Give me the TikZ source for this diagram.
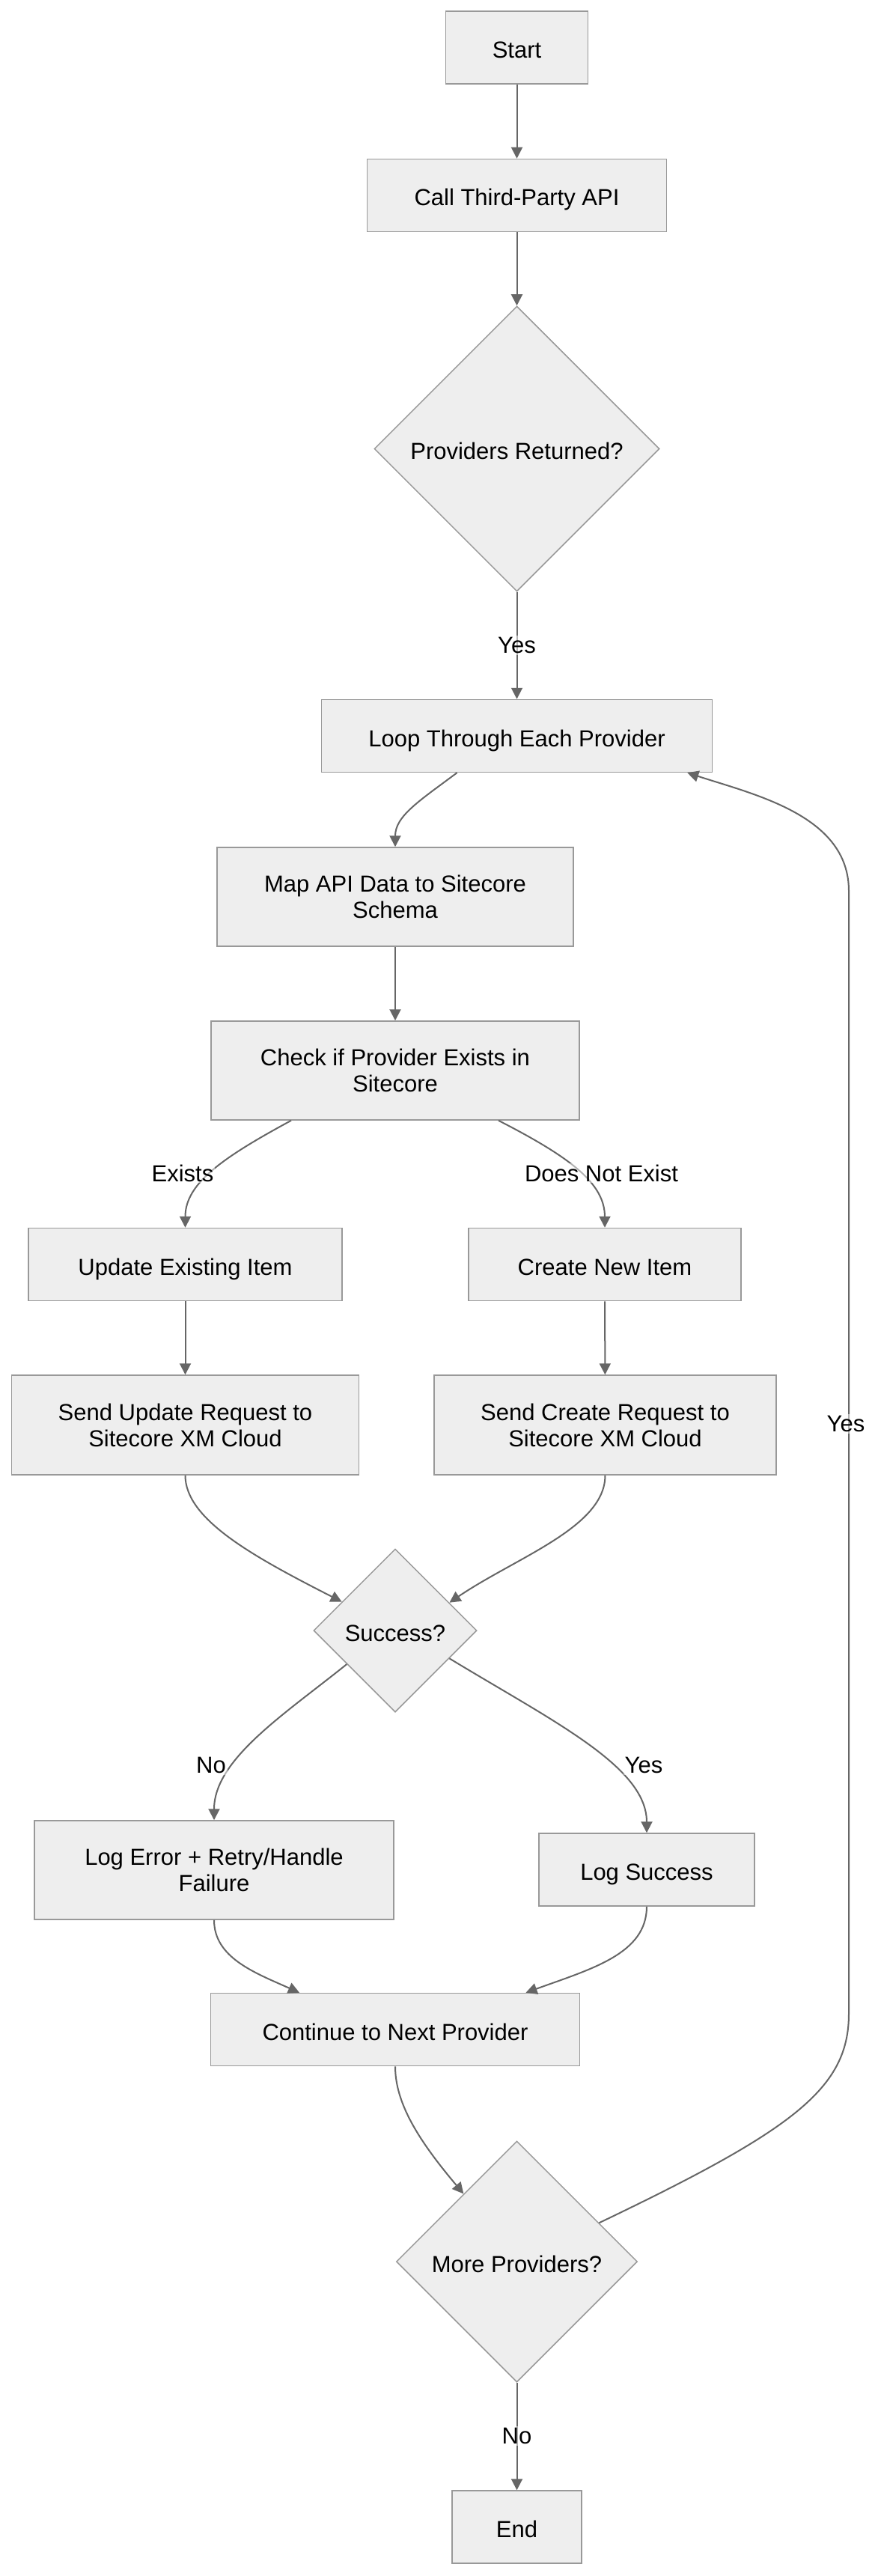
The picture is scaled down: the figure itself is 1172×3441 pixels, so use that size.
\documentclass[tikz,border=0pt]{standalone}
\usepackage{fontspec}
\setmainfont{Liberation Sans}
\usetikzlibrary{shapes.geometric,arrows.meta,calc}
\definecolor{nodefill}{HTML}{EEEEEE}
\definecolor{nodeline}{HTML}{999999}
\definecolor{edgecol}{HTML}{666666}
\begin{document}
\begin{tikzpicture}[x=1pt,y=-1pt,
  box/.style={draw=nodeline, fill=nodefill, line width=1.5pt, rectangle, inner sep=0pt, align=center, font=\fontsize{31}{35}\selectfont},
  one/.style={text height=28pt, text depth=0pt},
  dec/.style={draw=nodeline, fill=nodefill, line width=1.5pt, diamond, aspect=1, inner sep=0pt, text height=28pt, text depth=0pt, font=\fontsize{31}{35}\selectfont},
  edge/.style={draw=edgecol, line width=2pt, -{Triangle[length=15pt,width=15pt]}},
  lbl/.style={fill=white, fill opacity=0.5, text opacity=1, inner sep=2pt, font=\fontsize{31}{35}\selectfont}]
\fill[white] (0,0) rectangle (1172,3441);
\useasboundingbox (0,0) rectangle (1172,3441);

\node[box, one, minimum width=190pt, minimum height=97pt] (start) at (690.5,63.5) {Start};
\node[box, one, minimum width=400pt, minimum height=97pt] (call) at (690.5,261) {Call Third-Party API};
\node[dec, minimum width=381pt, minimum height=381pt] (prov) at (690.5,599.5) {Providers Returned?};
\node[box, one, minimum width=522pt, minimum height=97pt] (loop) at (690.5,983) {Loop Through Each Provider};
\node[box, minimum width=476pt, minimum height=132pt] (map) at (528,1198) {Map API Data to Sitecore\\Schema};
\node[box, minimum width=492pt, minimum height=132pt] (check) at (528,1430) {Check if Provider Exists in\\Sitecore};
\node[box, one, minimum width=419pt, minimum height=97pt] (update) at (247.5,1689) {Update Existing Item};
\node[box, one, minimum width=364pt, minimum height=97pt] (create) at (808,1689) {Create New Item};
\node[box, minimum width=464pt, minimum height=133pt] (sendu) at (247.5,1903.5) {Send Update Request to\\Sitecore XM Cloud};
\node[box, minimum width=457pt, minimum height=133pt] (sendc) at (808.5,1903.5) {Send Create Request to\\Sitecore XM Cloud};
\node[dec, minimum width=218pt, minimum height=218pt] (succ) at (528,2178) {Success?};
\node[box, minimum width=480pt, minimum height=132pt] (logerr) at (286,2498) {Log Error + Retry/Handle\\Failure};
\node[box, one, minimum width=288pt, minimum height=97pt] (logok) at (864,2497.5) {Log Success};
\node[box, one, minimum width=493pt, minimum height=97pt] (cont) at (528,2711) {Continue to Next Provider};
\node[dec, minimum width=322pt, minimum height=322pt] (more) at (690.5,3021) {More Providers?};
\node[box, one, minimum width=173pt, minimum height=97pt] (end) at (690.5,3375.5) {End};

\draw[edge] (start) -- (call);
\draw[edge] (call) -- (prov);
\draw[edge] (prov) -- (loop);
\draw[edge] ($(loop.south)+(-80,0)$) .. controls (560,1070) and (528,1090) .. (map.north);
\draw[edge] (map) -- (check);
\draw[edge] ($(check.south)+(-139,0)$) .. controls (300,1545) and (247.5,1580) .. (update.north);
\draw[edge] ($(check.south)+(138,0)$) .. controls (760,1545) and (808,1580) .. (create.north);
\draw[edge] (update) -- (sendu);
\draw[edge] (create) -- (sendc);
\draw[edge] (sendu.south) .. controls (247.5,2030) and (340,2080) .. ($(succ.north)!0.65!(succ.west)$);
\draw[edge] (sendc.south) .. controls (808.5,2040) and (690,2080) .. ($(succ.north)!0.66!(succ.east)$);
\draw[edge] ($(succ.west)!0.41!(succ.south)$) .. controls (380,2290) and (286,2350) .. (logerr.north);
\draw[edge] ($(succ.east)!0.34!(succ.south)$) .. controls (740,2300) and (864,2360) .. (logok.north);
\draw[edge] (logerr.south) .. controls (286,2615) and (340,2635) .. ($(cont.north)+(-128,0)$);
\draw[edge] (logok.south) .. controls (864,2610) and (790,2630) .. ($(cont.north)+(174.5,0)$);
\draw[edge] (cont.south) .. controls (528,2810) and (560,2860) .. ($(more.north)!0.44!(more.west)$);
\draw[edge] (more) -- (end);
\draw[edge] ($(more.north)!0.68!(more.east)$) .. controls (1060,2845) and (1134,2790) .. (1134,2690) -- (1134,1190) .. controls (1134,1090) and (1010,1062) .. ($(loop.south east)+(-34,0)$);

\node[lbl] (lyes1) at (690.5,862) {Yes};
\node[lbl] (lex) at (244,1567) {Exists};
\node[lbl] (ldne) at (803.5,1567) {Does Not Exist};
\node[lbl] (lno1) at (282,2358) {No};
\node[lbl] (lyes2) at (860,2358) {Yes};
\node[lbl] (lyes3) at (1130,1902) {Yes};
\node[lbl] (lno2) at (690.5,3254) {No};
\end{tikzpicture}
\end{document}
